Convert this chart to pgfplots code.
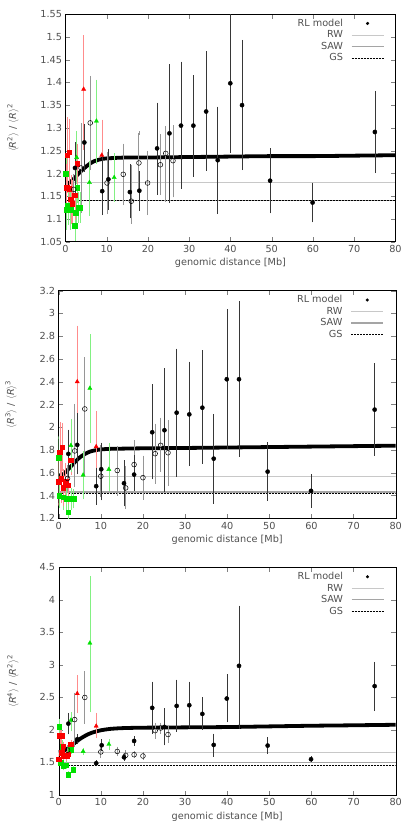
\documentclass[border=0pt]{standalone}
\usepackage{pgfplots}
\pgfplotsset{compat=1.18}
\usepackage{fontspec}
\setmainfont{DejaVu Sans}

\definecolor{txt}{RGB}{80,80,80}
\definecolor{rwc}{RGB}{200,200,200}
\definecolor{sawc}{RGB}{165,165,165}
\definecolor{mred}{RGB}{250,0,0}
\definecolor{mgreen}{RGB}{0,225,0}
\definecolor{ered}{RGB}{255,140,140}
\definecolor{egreen}{RGB}{130,240,130}
\definecolor{eblack}{RGB}{55,55,55}
\definecolor{egray}{RGB}{150,150,150}

\pgfplotsset{
  panel/.style={
    scale only axis, height=227.6pt,
    xmin=0, xmax=80, xtick={0,10,20,30,40,50,60,70,80},
    tick align=inside, major tick length=4.5pt,
    /pgf/number format/assume math mode=true,
    tick label style={font=\fontsize{9.7}{11}\selectfont, text=txt},
    label style={font=\fontsize{9.7}{11}\selectfont, text=txt},
    xlabel={genomic distance [Mb]},
    xlabel style={at={(axis description cs:0.5,0)}, anchor=center, yshift=-21.5pt},
    legend style={draw=none, fill=none, anchor=north east,
      font=\fontsize{9.7}{11}\selectfont, text=txt,
      inner sep=0pt, row sep=-1.2pt, column sep=6pt, cells={anchor=east}},
    legend plot pos=right,
    legend image code/.code={\draw[##1] (0pt,0pt) -- (32pt,0pt);},
  },
  bfill/.style={only marks, mark=*, mark size=2.1pt, black, forget plot,
    error bars/.cd, y dir=both, y explicit,
    error bar style={eblack, line width=0.5pt},
    error mark options={eblack, mark size=1.6pt, line width=0.5pt}},
  bopen/.style={only marks, mark=o, mark size=2.4pt, black, mark options={line width=0.5pt}, forget plot,
    error bars/.cd, y dir=both, y explicit,
    error bar style={egray, line width=0.9pt},
    error mark options={egray, mark size=1.6pt, line width=0.7pt}},
  rsq/.style={only marks, mark=square*, mark size=2.3pt, mred, forget plot,
    error bars/.cd, y dir=both, y explicit,
    error bar style={ered, line width=0.5pt},
    error mark options={ered, mark size=1.5pt, line width=0.5pt}},
  gsq/.style={only marks, mark=square*, mark size=2.3pt, mgreen, forget plot,
    error bars/.cd, y dir=both, y explicit,
    error bar style={egreen, line width=0.5pt},
    error mark options={egreen, mark size=1.5pt, line width=0.5pt}},
  rtri/.style={only marks, mark=triangle*, mark size=2.4pt, mred, forget plot,
    error bars/.cd, y dir=both, y explicit,
    error bar style={ered, line width=0.5pt},
    error mark options={ered, mark size=1.5pt, line width=0.5pt}},
  gtri/.style={only marks, mark=triangle*, mark size=2.4pt, mgreen, forget plot,
    error bars/.cd, y dir=both, y explicit,
    error bar style={egreen, line width=0.5pt},
    error mark options={egreen, mark size=1.5pt, line width=0.5pt}},
  rl/.style={no marks, black, line width=3.8pt, forget plot},
  rwl/.style={no marks, rwc, line width=0.8pt},
  sawl/.style={no marks, sawc, line width=1.0pt},
  gsl/.style={no marks, black, line width=0.6pt, dash pattern=on 2pt off 1pt},
}

\begin{document}
\begin{tikzpicture}
\path[use as bounding box] (0pt,0pt) rectangle (415pt,830pt);

% ---------- panel 1: <R^2>/<R>^2 ----------
\begin{axis}[panel, at={(65.5pt,588.3pt)}, anchor=south west, width=330pt,
  ymin=1.05, ymax=1.55,
  ytick={1.05,1.1,1.15,1.2,1.25,1.3,1.35,1.4,1.45,1.5,1.55},
  ylabel={$\langle$\textit{R}\textsuperscript{2}$\rangle$ / $\langle$\textit{R}$\rangle$\textsuperscript{2}},
  ylabel style={at={(axis description cs:-0.159,0.5)}, anchor=center},
  legend style={at={(axis description cs:0.966,0.988)}}]
\addlegendimage{legend image code/.code={\fill[black] (16pt,0pt) circle (1.4pt);}}
\addlegendentry{RL model}
\addplot[rwl] coordinates {(0,1.18) (80,1.18)};
\addlegendentry{RW}
\addplot[sawl] coordinates {(0,1.141) (80,1.141)};
\addlegendentry{SAW}
\addplot[gsl] coordinates {(0,1.14) (80,1.14)};
\addlegendentry{GS}
\addplot[rl, smooth] coordinates {(0,1.177) (1,1.180) (2,1.188) (3,1.198) (4,1.207) (5,1.215) (6,1.222) (7,1.227) (8,1.230) (9,1.232) (10,1.233) (12,1.234) (15,1.235) (20,1.235) (30,1.236) (40,1.237) (50,1.238) (60,1.238) (70,1.239) (80,1.240)};
\addplot[gsq] coordinates {(0.1,1.20) +- (0,0.04) (0.3,1.12) +- (0,0.04) (0.6,1.13) +- (0,0.04) (1.2,1.12) +- (0,0.04) (2.3,1.085) +- (0,0.03) (2.5,1.114) +- (0,0.03) (3.2,1.125) +- (0,0.03) (3.5,1.125) +- (0,0.03) (2.8,1.168) +- (0,0.03)};
\addplot[rsq] coordinates {(0.4,1.24) +- (0,0.08) (0.85,1.247) +- (0,0.07) (0.3,1.168) +- (0,0.05) (0.85,1.166) +- (0,0.05) (1.3,1.143) +- (0,0.05) (1.6,1.133) +- (0,0.05) (2.3,1.152) +- (0,0.05) (2.8,1.221) +- (0,0.04)};
\addplot[gtri] coordinates {(2.7,1.235) +- (0,0.055) (5.8,1.18) += (0,0.045) -= (0,0.07) (7.5,1.315) += (0,0.088) -= (0,0.09) (11.8,1.191) +- (0,0.05)};
\addplot[rtri] coordinates {(4.4,1.385) += (0,0.115) -= (0,0.13) (8.8,1.24) += (0,0.075) -= (0,0.07)};
\addplot[bopen] coordinates {(2.0,1.165) +- (0,0.03) (3.76,1.212) +- (0,0.095) (6.0,1.311) +- (0,0.1) (10.06,1.179) +- (0,0.065) (14.0,1.198) +- (0,0.064) (15.96,1.139) += (0,0.077) -= (0,0.046) (17.8,1.223) += (0,0.066) -= (0,0.06) (19.9,1.179) +- (0,0.067) (23.0,1.219) +- (0,0.063) (24.3,1.244) += (0,0.057) -= (0,0.103) (26.06,1.228) += (0,0.074) -= (0,0.077)};
\addplot[bfill] coordinates {(2.3,1.212) += (0,0.053) -= (0,0.052) (4.57,1.268) += (0,0.038) -= (0,0.061) (8.9,1.161) += (0,0.078) -= (0,0.049) (10.4,1.187) += (0,0.063) -= (0,0.064) (15.6,1.159) += (0,0.058) -= (0,0.054) (17.9,1.162) +- (0,0.04) (22.2,1.255) += (0,0.097) -= (0,0.098) (25.2,1.288) += (0,0.148) -= (0,0.15) (28.0,1.305) += (0,0.137) -= (0,0.135) (31.0,1.305) += (0,0.107) -= (0,0.109) (34.1,1.336) += (0,0.129) -= (0,0.127) (36.9,1.229) += (0,0.114) -= (0,0.115) (39.95,1.398) += (0,0.16) -= (0,0.149) (42.8,1.35) += (0,0.14) -= (0,0.139) (49.6,1.184) +- (0,0.068) (59.9,1.136) +- (0,0.04) (75.0,1.291) +- (0,0.087)};
\end{axis}

% ---------- panel 2: <R^3>/<R>^3 ----------
\begin{axis}[panel, at={(58.7pt,311.7pt)}, anchor=south west, width=337pt,
  ymin=1.2, ymax=3.2,
  ytick={1.2,1.4,1.6,1.8,2,2.2,2.4,2.6,2.8,3,3.2},
  ylabel={$\langle$\textit{R}\textsuperscript{3}$\rangle$ / $\langle$\textit{R}$\rangle$\textsuperscript{3}},
  ylabel style={at={(axis description cs:-0.1415,0.5)}, anchor=center},
  legend style={at={(axis description cs:0.966,0.988)}}]
\addlegendimage{legend image code/.code={\fill[black] (16pt,0pt) circle (1.4pt);}}
\addlegendentry{RL model}
\addplot[rwl] coordinates {(0,1.57) (80,1.57)};
\addlegendentry{RW}
\addplot[sawl, line width=1.6pt] coordinates {(0,1.43) (80,1.43)};
\addlegendentry{SAW}
\addplot[gsl] coordinates {(0,1.42) (80,1.42)};
\addlegendentry{GS}
\addplot[rl, smooth] coordinates {(0,1.57) (1,1.585) (2,1.62) (3,1.66) (4,1.70) (5,1.735) (6,1.76) (7,1.78) (8,1.792) (9,1.80) (10,1.805) (12,1.81) (15,1.812) (20,1.815) (30,1.818) (40,1.822) (50,1.826) (60,1.83) (70,1.834) (80,1.838)};
\addplot[gsq] coordinates {(0.0,1.73) +- (0,0.18) (0.1,1.40) +- (0,0.1) (1.1,1.385) +- (0,0.1) (1.9,1.37) +- (0,0.1) (2.3,1.255) +- (0,0.07) (2.9,1.37) +- (0,0.08) (3.5,1.37) +- (0,0.07)};
\addplot[rsq] coordinates {(0.3,1.78) +- (0,0.25) (0.8,1.825) +- (0,0.2) (0.0,1.52) +- (0,0.2) (0.6,1.55) +- (0,0.2) (1.1,1.467) +- (0,0.15) (1.6,1.52) +- (0,0.15) (2.3,1.49) +- (0,0.15) (2.9,1.71) +- (0,0.12)};
\addplot[gtri] coordinates {(2.9,1.84) +- (0,0.22) (5.8,1.58) +- (0,0.2) (7.4,2.343) += (0,0.46) -= (0,0.47) (11.9,1.63) += (0,0.22) -= (0,0.18)};
\addplot[rtri] coordinates {(4.4,2.40) +- (0,0.48) (8.9,1.83) += (0,0.3) -= (0,0.43)};
\addplot[bopen] coordinates {(2.1,1.55) +- (0,0.1) (3.8,1.792) += (0,0.4) -= (0,0.3) (6.2,2.161) += (0,0.44) -= (0,0.57) (10.0,1.57) += (0,0.26) -= (0,0.17) (13.9,1.62) += (0,0.2) -= (0,0.21) (15.9,1.467) += (0,0.18) -= (0,0.17) (17.9,1.672) += (0,0.2) -= (0,0.19) (20.0,1.557) +- (0,0.18) (22.9,1.768) +- (0,0.25) (24.2,1.841) += (0,0.23) -= (0,0.22) (25.95,1.776) += (0,0.27) -= (0,0.28)};
\addplot[bfill] coordinates {(2.3,1.766) +- (0,0.2) (4.4,1.845) += (0,0.265) -= (0,0.245) (8.9,1.482) +- (0,0.15) (10.1,1.631) += (0,0.22) -= (0,0.26) (15.5,1.508) +- (0,0.19) (17.9,1.584) += (0,0.16) -= (0,0.13) (22.2,1.956) += (0,0.41) -= (0,0.4) (25.1,1.974) +- (0,0.53) (28.0,2.128) +- (0,0.55) (31.0,2.113) += (0,0.45) -= (0,0.44) (34.1,2.172) += (0,0.49) -= (0,0.48) (36.8,1.724) +- (0,0.38) (39.9,2.422) +- (0,0.6) (42.8,2.422) += (0,0.67) -= (0,0.665) (49.6,1.61) += (0,0.245) -= (0,0.242) (59.9,1.441) += (0,0.134) -= (0,0.135) (75.0,2.155) += (0,0.395) -= (0,0.392)};
\end{axis}

% ---------- panel 3: <R^4>/<R^2>^2 ----------
\begin{axis}[panel, at={(58.7pt,35pt)}, anchor=south west, width=337pt,
  ymin=1, ymax=4.5,
  ytick={1,1.5,2,2.5,3,3.5,4,4.5},
  ylabel={$\langle$\textit{R}\textsuperscript{4}$\rangle$ / $\langle$\textit{R}\textsuperscript{2}$\rangle$\textsuperscript{2}},
  ylabel style={at={(axis description cs:-0.1356,0.5)}, anchor=center},
  legend style={at={(axis description cs:0.966,0.988)}}]
\addlegendimage{legend image code/.code={\fill[black] (16pt,0pt) circle (1.4pt);}}
\addlegendentry{RL model}
\addplot[rwl] coordinates {(0,1.66) (80,1.66)};
\addlegendentry{RW}
\addplot[sawl] coordinates {(0,1.50) (80,1.50)};
\addlegendentry{SAW}
\addplot[gsl] coordinates {(0,1.46) (80,1.46)};
\addlegendentry{GS}
\addplot[rl, smooth] coordinates {(0,1.66) (1,1.675) (2,1.71) (3,1.76) (4,1.81) (5,1.86) (6,1.90) (7,1.935) (8,1.96) (9,1.98) (10,1.995) (12,2.015) (15,2.028) (20,2.035) (30,2.04) (40,2.045) (50,2.055) (60,2.065) (70,2.072) (80,2.08)};
\addplot[gsq] coordinates {(0.1,2.05) +- (0,0.1) (0.5,1.50) +- (0,0.05) (0.8,1.74) +- (0,0.08) (1.1,1.44) +- (0,0.04) (1.7,1.46) +- (0,0.04) (2.3,1.315) +- (0,0.03) (3.4,1.39) +- (0,0.03) (2.9,1.70) +- (0,0.05)};
\addplot[rsq] coordinates {(0.3,1.91) +- (0,0.1) (0.7,1.913) +- (0,0.1) (0.0,1.55) +- (0,0.05) (0.7,1.65) +- (0,0.05) (1.1,1.60) +- (0,0.05) (1.1,1.74) +- (0,0.05) (1.9,1.60) +- (0,0.05) (2.3,1.63) +- (0,0.05) (2.9,1.78) +- (0,0.05)};
\addplot[gtri] coordinates {(2.9,2.15) += (0,0.1) -= (0,0.15) (5.8,1.67) +- (0,0.03) (7.4,3.336) += (0,1.01) -= (0,1.04) (11.9,1.78) +- (0,0.06)};
\addplot[rtri] coordinates {(4.4,2.56) += (0,0.26) -= (0,0.28) (8.9,2.06) += (0,0.18) -= (0,0.16)};
\addplot[bopen] coordinates {(2.1,1.69) +- (0,0.05) (3.8,2.16) += (0,0.39) -= (0,0.4) (6.2,2.5) +- (0,0.38) (10.0,1.662) +- (0,0.07) (13.9,1.67) +- (0,0.05) (15.9,1.61) +- (0,0.05) (17.9,1.62) +- (0,0.03) (20.0,1.60) +- (0,0.03) (22.9,1.99) +- (0,0.1) (24.2,2.03) +- (0,0.06) (25.95,1.93) +- (0,0.1)};
\addplot[bfill] coordinates {(2.3,2.098) +- (0,0.14) (4.4,1.857) +- (0,0.05) (8.9,1.488) +- (0,0.02) (10.2,1.765) +- (0,0.07) (15.5,1.58) +- (0,0.03) (17.9,1.831) +- (0,0.05) (22.2,2.34) +- (0,0.38) (25.1,2.047) +- (0,0.26) (28.0,2.37) += (0,0.38) -= (0,0.37) (31.0,2.38) += (0,0.34) -= (0,0.33) (34.1,2.247) += (0,0.23) -= (0,0.22) (36.8,1.77) += (0,0.15) -= (0,0.16) (39.9,2.483) += (0,0.35) -= (0,0.34) (42.8,2.986) += (0,0.9) -= (0,0.94) (49.6,1.76) +- (0,0.1) (59.9,1.55) +- (0,0.02) (75.0,2.674) += (0,0.35) -= (0,0.36)};
\end{axis}
\end{tikzpicture}
\end{document}
